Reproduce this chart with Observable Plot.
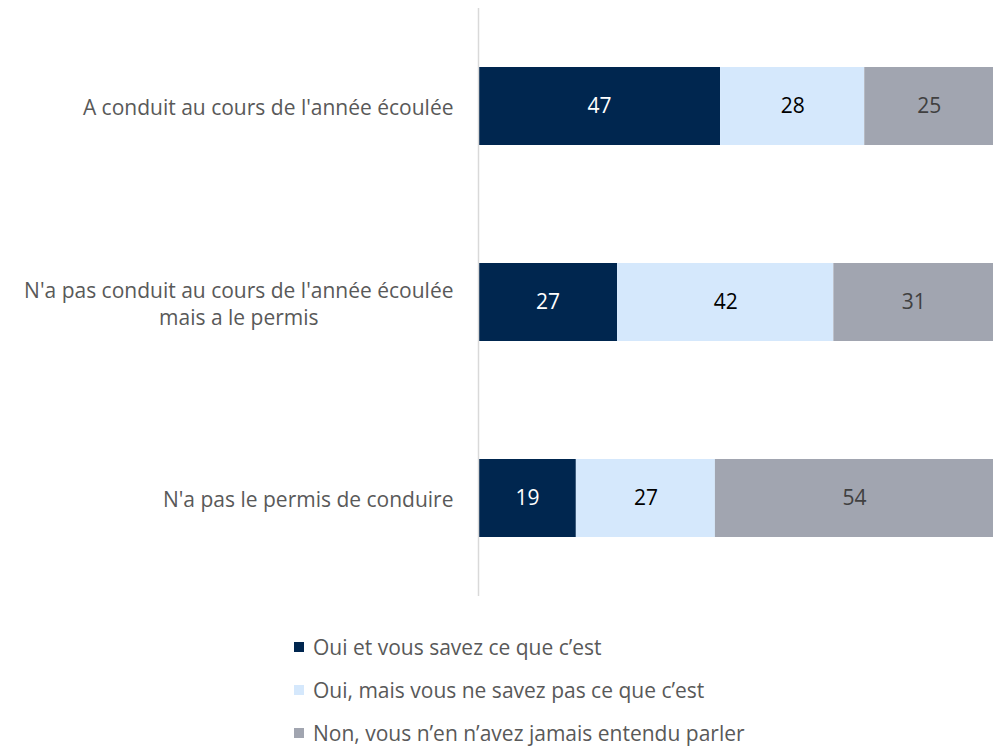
<!DOCTYPE html>
<html><head><meta charset="utf-8">
<script src="https://cdn.jsdelivr.net/npm/d3@7"></script>
<script src="https://cdn.jsdelivr.net/npm/@observablehq/plot@0.6"></script>
<style>
body{margin:0;background:#fff;font-family:"Open Sans",sans-serif;}
#legend{margin-left:294px;margin-top:15px;}
.li{display:flex;align-items:center;height:43px;font-size:21px;color:#595959;}
.sw{width:10px;height:10px;margin-right:9px;flex:none;}
</style></head><body>
<div id="chart"></div>
<div id="legend"></div>
<script>
const categories = ["A conduit au cours de l'année écoulée", "N'a pas conduit au cours de l'année écoulée\nmais a le permis", "N'a pas le permis de conduire"];
const series = ["Oui et vous savez ce que c’est", "Oui, mais vous ne savez pas ce que c’est", "Non, vous n’en n’avez jamais entendu parler"];
const colors = ["#00264f", "#d5e8fc", "#a1a5b0"];
const textColors = ["#ffffff", "#000000", "#404040"];
const valuesOui = [47, 27, 19];
const valuesOuiMais = [28, 42, 27];
const valuesNon = [25, 31, 54];

const seriesValues = [valuesOui, valuesOuiMais, valuesNon];
const data = [];
categories.forEach((c, i) => series.forEach((s, j) => data.push({cat: c, series: s, value: seriesValues[j][i], tc: textColors[j]})));

const chart = Plot.plot({
  width: 1002, height: 610,
  marginLeft: 478, marginRight: 9, marginTop: 8, marginBottom: 14,
  style: {fontFamily: "'Open Sans', sans-serif", fontSize: "21px"},
  x: {domain: [0, 100], axis: null},
  y: {domain: categories, padding: 0.6, paddingOuter: 0.3, label: null},
  color: {domain: series, range: colors},
  marks: [
    Plot.barX(data, {x: "value", y: "cat", fill: "series", order: null}),
    Plot.text(data, Plot.stackX({x: "value", y: "cat", z: "series", text: d => String(d.value), fill: "tc", fontSize: 21, order: null})),
    Plot.ruleX([0], {stroke: "#d9d9d9", strokeWidth: 1.5}),
    Plot.axisY({tickSize: 0, tickPadding: 25, fontSize: 21, fill: "#595959", lineHeight: 1.3, label: null})
  ]
});
document.getElementById("chart").appendChild(chart);

// center multi-line category labels
chart.querySelectorAll('[aria-label="y-axis tick label"] text').forEach(t => {
  const spans = t.querySelectorAll("tspan");
  if (spans.length > 1) {
    const w = Math.max(...Array.from(spans).map(s => s.getComputedTextLength()));
    t.setAttribute("text-anchor", "middle");
    const tr = t.getAttribute("transform") || "";
    t.setAttribute("transform", tr + ` translate(${-w/2},0)`);
  }
});

const legend = document.getElementById("legend");
series.forEach((s, i) => {
  const row = document.createElement("div"); row.className = "li";
  const sw = document.createElement("div"); sw.className = "sw"; sw.style.background = colors[i];
  const tx = document.createElement("span"); tx.textContent = s;
  row.appendChild(sw); row.appendChild(tx); legend.appendChild(row);
});
</script>
</body></html>
